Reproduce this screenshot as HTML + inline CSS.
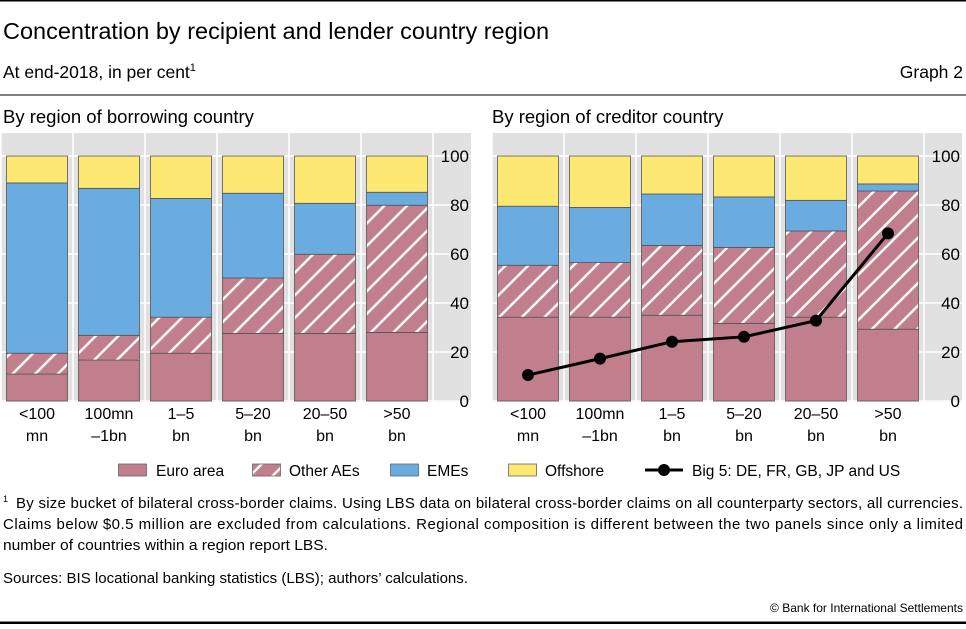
<!DOCTYPE html>
<html><head><meta charset="utf-8"><style>
body{margin:0;background:#fff;}
svg text{font-family:"Liberation Sans",sans-serif;fill:#000;}
</style></head><body>
<svg id="chart" width="966" height="624" viewBox="0 0 966 624" xmlns="http://www.w3.org/2000/svg">
<defs>
<pattern id="hatch" patternUnits="userSpaceOnUse" width="16" height="16" patternTransform="rotate(45)">
<rect width="16" height="16" fill="#c17f8e"/>
<rect x="0" y="0" width="2.5" height="16" fill="#fff" opacity="0.95"/>
</pattern>
</defs>
<rect x="0" y="0" width="966" height="1.5" fill="#000"/>
<text x="3" y="39" font-size="23.5">Concentration by recipient and lender country region</text>
<text x="3" y="78" font-size="17.5">At end-2018, in per cent<tspan font-size="11" dy="-7">1</tspan></text>
<text x="963" y="78" font-size="17.5" text-anchor="end">Graph 2</text>
<rect x="0" y="94.5" width="966" height="1" fill="#000"/>
<text x="3" y="123" font-size="18.5">By region of borrowing country</text>
<text x="492" y="123" font-size="18.5">By region of creditor country</text>
<g id="left"></g>
<g id="right"></g>
<g id="legend">
<g><rect x="118.5" y="464" width="28" height="12" fill="#c17f8e" stroke="#666" stroke-width="0.8"/><text x="156" y="476" font-size="15.5">Euro area</text></g>
<g><rect x="252.5" y="464" width="28" height="12" fill="url(#hatch)" stroke="#666" stroke-width="0.8"/><text x="289" y="476" font-size="15.5">Other AEs</text></g>
<g><rect x="390.5" y="464" width="28" height="12" fill="#6aacdf" stroke="#666" stroke-width="0.8"/><text x="427" y="476" font-size="15.5">EMEs</text></g>
<g><rect x="508.5" y="464" width="28" height="12" fill="#fde972" stroke="#666" stroke-width="0.8"/><text x="545" y="476" font-size="15.5">Offshore</text></g>
<g><line x1="645" y1="470" x2="683" y2="470" stroke="#000" stroke-width="3"/><circle cx="664" cy="470" r="6"/><text x="692" y="476" font-size="15.5">Big 5: DE, FR, GB, JP and US</text></g>
</g>
<g>
<text x="3" y="502" font-size="9">1</text>
<text x="16" y="508" font-size="15" textLength="947" lengthAdjust="spacing">By size bucket of bilateral cross-border claims. Using LBS data on bilateral cross-border claims on all counterparty sectors, all currencies.</text>
<text x="3" y="529" font-size="15" textLength="960" lengthAdjust="spacing">Claims below $0.5 million are excluded from calculations. Regional composition is different between the two panels since only a limited</text>
<text x="3" y="550" font-size="15" textLength="325" lengthAdjust="spacingAndGlyphs">number of countries within a region report LBS.</text>
</g>
<text x="3" y="583" font-size="15" textLength="465" lengthAdjust="spacingAndGlyphs">Sources: BIS locational banking statistics (LBS); authors’ calculations.</text>
<text x="963" y="612" font-size="12" text-anchor="end">© Bank for International Settlements</text>
<rect x="0" y="621.5" width="966" height="2.5" fill="#000"/>
</svg>
<script>
const categories = ["<100|mn","100mn|–1bn","1–5|bn","5–20|bn","20–50|bn",">50|bn"];
const yTicks = [0,20,40,60,80,100];
const leftEuro = [11,16.7,19.5,27.6,27.6,28];
const leftOtherAEs = [8.5,10.1,14.7,22.6,32.3,51.9];
const leftEMEs = [69.5,60,48.5,34.6,20.8,5.3];
const leftOffshore = [11,13.2,17.3,15.2,19.3,14.8];
const rightEuro = [34.2,34.2,35,31.7,34.2,29.3];
const rightOtherAEs = [21.2,22.3,28.5,31,35.2,56.4];
const rightEMEs = [24.1,22.5,21,20.6,12.5,2.9];
const rightOffshore = [20.5,21,15.5,16.7,18.1,11.4];
const big5 = [10.6,17.3,24.2,26.2,32.8,68.4];

const NS="http://www.w3.org/2000/svg";
function mk(tag,attrs,parent){const e=document.createElementNS(NS,tag);for(const k in attrs)e.setAttribute(k,attrs[k]);parent.appendChild(e);return e;}
const yTop=156, yBot=401, plotTop=133;
function yScale(v){return yBot-(v/100)*(yBot-yTop);}
function drawPanel(g,x0,series,fills,names,line){
  const band=72, w=432;
  const bg=mk('rect',{x:x0,y:plotTop,width:w+38,height:yBot-plotTop+1,fill:'#e1e1e1'},g);
  
  
  yTicks.forEach(t=>{
    const y=yScale(t);
    const gl=mk('line',{x1:x0,x2:x0+w+38,y1:y,y2:y,stroke:'#fff','stroke-width':1.5},g);
    
    
    const tx=mk('text',{x:x0+w+36,y:y+6,'font-size':17,'text-anchor':'end'},g);
    tx.textContent=t;
    
    
  });
  for(let i=0;i<=6;i++){
    const vl=mk('line',{x1:x0+i*band,x2:x0+i*band,y1:plotTop,y2:yBot+1,stroke:'#fff','stroke-width':1.5},g);
    
    
  }
  categories.forEach((c,i)=>{
    let cum=0;
    series.forEach((s,k)=>{
      const v=s[i];
      const r=mk('rect',{x:x0+i*band+5.5,y:yScale(cum+v),width:61,height:yScale(cum)-yScale(cum+v),fill:fills[k],stroke:'#555','stroke-width':0.8},g);
      
      
      cum+=v;
    });
    const parts=c.split('|');
    const t1=mk('text',{x:x0+i*band+36,y:419,'font-size':16,'text-anchor':'middle'},g);
    t1.textContent=parts[0];
    
    
    const t2=mk('text',{x:x0+i*band+36,y:441,'font-size':16,'text-anchor':'middle'},g);
    t2.textContent=parts[1];
    
    
  });
  if(line){
    const pts=line.map((v,i)=>(x0+i*band+36)+','+yScale(v)).join(' ');
    const pl=mk('polyline',{points:pts,fill:'none',stroke:'#000','stroke-width':3},g);
    
    
    line.forEach((v,i)=>{
      const c=mk('circle',{cx:x0+i*band+36,cy:yScale(v),r:6,fill:'#000'},g);
      
      
    });
  }
}
const fills=['#c17f8e','url(#hatch)','#6aacdf','#fde972'];
const names=['euro-area','other-aes','emes','offshore'];
drawPanel(document.getElementById('left'),1,[leftEuro,leftOtherAEs,leftEMEs,leftOffshore],fills,names,null);
drawPanel(document.getElementById('right'),492,[rightEuro,rightOtherAEs,rightEMEs,rightOffshore],fills,names,big5);
</script>
</body></html>
